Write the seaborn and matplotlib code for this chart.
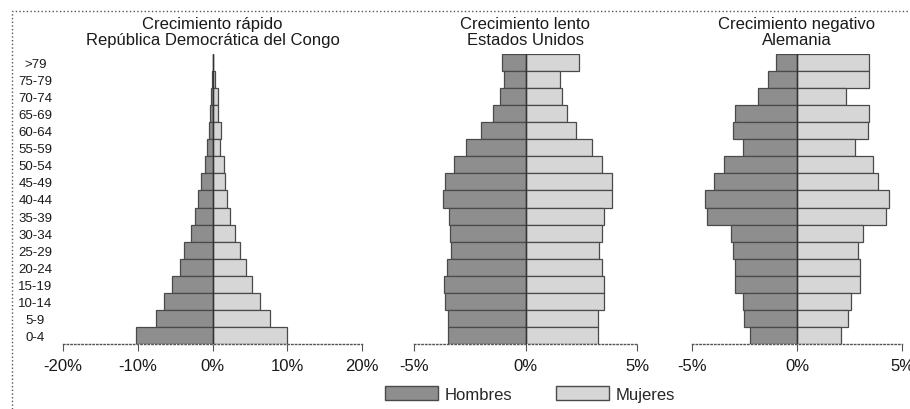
import numpy as np
import pandas as pd
import matplotlib
matplotlib.use('Agg')
import matplotlib.pyplot as plt
import matplotlib.patches as mpatches
import seaborn as sns

# ============================================================
# DATOS (porcentaje de la población por grupo de edad)
# ============================================================
edades = ['0-4', '5-9', '10-14', '15-19', '20-24', '25-29', '30-34', '35-39',
          '40-44', '45-49', '50-54', '55-59', '60-64', '65-69', '70-74',
          '75-79', '>79']

congo_hombres = [10.2, 7.6, 6.5, 5.4, 4.3, 3.8, 2.9, 2.3, 2.0, 1.6, 1.0,
                 0.7, 0.5, 0.3, 0.2, 0.1, 0.0]
congo_mujeres = [9.9, 7.7, 6.4, 5.3, 4.5, 3.7, 3.0, 2.3, 1.9, 1.7, 1.5,
                 1.0, 1.1, 0.8, 0.7, 0.3, 0.1]

eeuu_hombres = [3.48, 3.46, 3.61, 3.67, 3.51, 3.33, 3.40, 3.45, 3.72, 3.63,
                3.22, 2.67, 1.99, 1.47, 1.14, 0.97, 1.05]
eeuu_mujeres = [3.27, 3.27, 3.54, 3.54, 3.42, 3.31, 3.42, 3.54, 3.90, 3.88,
                3.45, 2.98, 2.28, 1.86, 1.63, 1.56, 2.40]

alemania_hombres = [2.25, 2.54, 2.59, 2.97, 2.95, 3.05, 3.16, 4.29, 4.38,
                    3.94, 3.46, 2.57, 3.06, 2.97, 1.86, 1.38, 0.98]
alemania_mujeres = [2.11, 2.41, 2.56, 2.98, 2.98, 2.89, 3.14, 4.25, 4.37,
                    3.84, 3.62, 2.78, 3.37, 3.41, 2.33, 3.44, 3.44]

titulos = ['Crecimiento rápido\nRepública Democrática del Congo',
           'Crecimiento lento\nEstados Unidos',
           'Crecimiento negativo\nAlemania']
xticks_paneles = [[-20, -10, 0, 10, 20], [-5, 0, 5], [-5, 0, 5]]
sexos = ['Hombres', 'Mujeres']

# ============================================================
# ESTILO
# ============================================================
sns.set_theme(style='white')
plt.rcParams['font.family'] = ['Liberation Sans', 'DejaVu Sans']

COLOR_H = '#8e8e8e'
COLOR_M = '#d6d6d6'
BORDE = '#4a4a4a'
TEXTO = '#1a1a1a'
paleta = {'Hombres': COLOR_H, 'Mujeres': COLOR_M}

fig = plt.figure(figsize=(9.1, 4.1), dpi=100)
fig.patch.set_facecolor('white')

# posiciones de los ejes (en pixeles de la figura 910x410)
cajas = [(63, 362), (414, 637), (692, 902)]
y_abajo, y_arriba = 345, 55

datos = [(congo_hombres, congo_mujeres),
         (eeuu_hombres, eeuu_mujeres),
         (alemania_hombres, alemania_mujeres)]

orden = edades[::-1]  # 0-4 abajo

for i, ((hom, muj), (x0, x1)) in enumerate(zip(datos, cajas)):
    ax = fig.add_axes([x0 / 910, 1 - y_abajo / 410,
                       (x1 - x0) / 910, (y_abajo - y_arriba) / 410])
    df = pd.DataFrame({
        'edad': edades * 2,
        'sexo': ['Hombres'] * len(edades) + ['Mujeres'] * len(edades),
        'valor': [-v for v in hom] + list(muj),
    })
    sns.barplot(data=df, x='valor', y='edad', hue='sexo', order=orden,
                hue_order=sexos, palette=paleta, dodge=False, width=1.0,
                orient='h', edgecolor=BORDE, linewidth=0.9, legend=False,
                ax=ax)
    lim = xticks_paneles[i][-1]
    ax.set_xlim(-lim, lim)
    ax.set_ylim(len(edades) - 0.5, -0.5)
    ax.axvline(0, color='#333333', lw=1.0, zorder=5)
    ax.set_xticks(xticks_paneles[i])
    ax.set_xticklabels([f'{t}%' for t in xticks_paneles[i]], fontsize=12,
                       color=TEXTO)
    ax.set_xlabel('')
    ax.set_ylabel('')
    ax.tick_params(axis='x', bottom=True, direction='out', length=5,
                   width=0.8, color='#555555', pad=5)
    for lado in ['top', 'right', 'left']:
        ax.spines[lado].set_visible(False)
    ax.spines['bottom'].set_linestyle(':')
    ax.spines['bottom'].set_color('#555555')
    ax.spines['bottom'].set_linewidth(1.0)
    ax.set_facecolor('white')
    ax.set_title(titulos[i], fontsize=12, color=TEXTO, pad=7,
                 linespacing=1.1)
    if i == 0:
        ax.tick_params(axis='y', left=False, length=0, pad=20)
        for lab in ax.get_yticklabels():
            lab.set_horizontalalignment('center')
            lab.set_fontsize(9.5)
            lab.set_color(TEXTO)
    else:
        ax.set_yticks([])

# leyenda inferior
manijas = [mpatches.Patch(facecolor=COLOR_H, edgecolor=BORDE, label='Hombres'),
           mpatches.Patch(facecolor=COLOR_M, edgecolor=BORDE, label='Mujeres')]
fig.legend(handles=manijas, loc='center', bbox_to_anchor=(530 / 910, 1 - 395 / 410),
           ncol=2, frameon=False, fontsize=12, handlelength=3.2,
           handleheight=0.95, handletextpad=0.4, columnspacing=2.6,
           borderpad=0.1)

# marco punteado de la figura
marco = mpatches.Rectangle((12 / 910, -0.05), 1.0, 1 - 12 / 410 + 0.05,
                           transform=fig.transFigure, fill=False,
                           linestyle=':', edgecolor='#555555', linewidth=1.0)
fig.patches.append(marco)

fig.savefig('out.png', dpi=100, facecolor='white')
